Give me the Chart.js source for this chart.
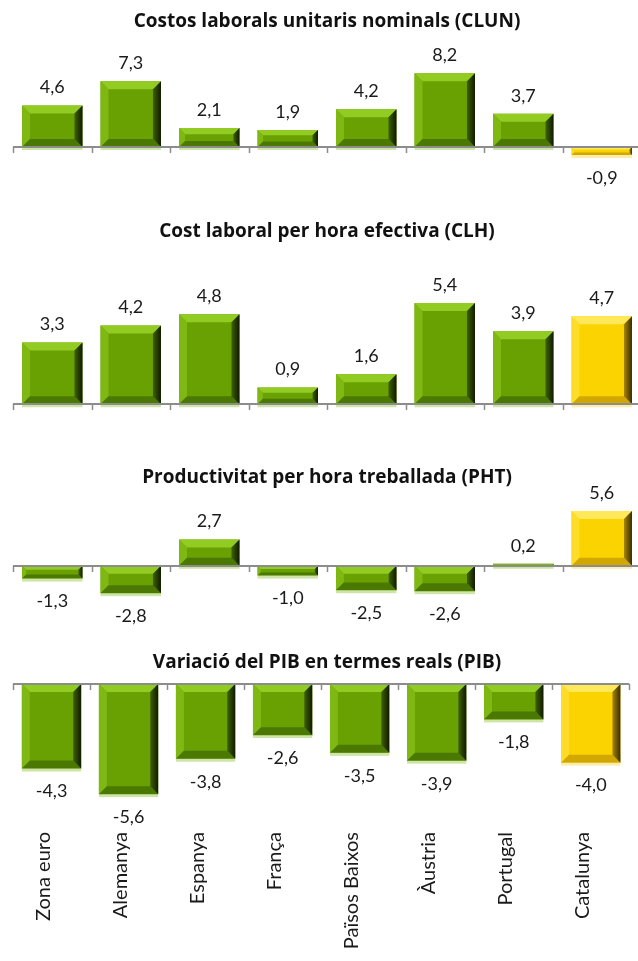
<!DOCTYPE html>
<html>
<head>
<meta charset="utf-8">
<script src="https://cdn.jsdelivr.net/npm/chart.js@4.4.1/dist/chart.umd.min.js"></script>
<style>
  html, body { margin: 0; padding: 0; background: #fff; overflow: hidden; }
  #wrap { position: relative; width: 638px; height: 961px; overflow: hidden; }
  .panel { position: absolute; left: 0; width: 645px; }
</style>
</head>
<body>
<div id="wrap">
  <div class="panel" style="top:0;height:205px"><canvas id="c1"></canvas></div>
  <div class="panel" style="top:205px;height:245px"><canvas id="c2"></canvas></div>
  <div class="panel" style="top:450px;height:190px"><canvas id="c3"></canvas></div>
  <div class="panel" style="top:640px;height:321px"><canvas id="c4"></canvas></div>
</div>
<script>
// ---- data ----
const countries = ['Zona euro', 'Alemanya', 'Espanya', 'França', 'Països Baixos', 'Àustria', 'Portugal', 'Catalunya'];
const clun = [4.6, 7.3, 2.1, 1.9, 4.2, 8.2, 3.7, -0.9];
const clh  = [3.3, 4.2, 4.8, 0.9, 1.6, 5.4, 3.9, 4.7];
const pht  = [-1.3, -2.8, 2.7, -1.0, -2.5, -2.6, 0.2, 5.6];
const pib  = [-4.3, -5.6, -3.8, -2.6, -3.5, -3.9, -1.8, -4.0];
const highlight = 'Catalunya';

// ---- palettes for the bevelled bars ----
const GREEN = { face: '#69a002', top: '#92cc22', left: '#7fb812', right1: '#3d6200', right2: '#101a00', bottom: '#4a7800', glow: 'rgba(165,208,95,0.55)' };
const GOLD  = { face: '#fbd300', top: '#ffe85a', left: '#ffdc28', right1: '#a88600', right2: '#3a2c00', bottom: '#d2a800', glow: 'rgba(250,225,120,0.6)' };
const palFor = (i) => countries[i] === highlight ? GOLD : GREEN;

const fmt = (v) => v.toFixed(1).replace('.', ',');

// draws the bevel on top of each bar element the library laid out
const bevelBars = {
  id: 'bevelBars',
  afterDatasetsDraw(chart) {
    const ctx = chart.ctx;
    chart.getDatasetMeta(0).data.forEach((el, i) => {
      const pal = palFor(i);
      const x0 = el.x - el.width / 2, x1 = el.x + el.width / 2;
      const y0 = Math.min(el.y, el.base), y1 = Math.max(el.y, el.base);
      const w = x1 - x0, h = y1 - y0;
      if (h < 1) return;
      const b = Math.min(8, h * 0.32, w * 0.2);
      const poly = (pts, c) => {
        ctx.beginPath();
        ctx.moveTo(pts[0][0], pts[0][1]);
        pts.slice(1).forEach(p => ctx.lineTo(p[0], p[1]));
        ctx.closePath();
        ctx.fillStyle = c;
        ctx.fill();
      };
      ctx.save();
      poly([[x0, y0], [x1, y0], [x1 - b, y0 + b], [x0 + b, y0 + b]], pal.top);
      poly([[x0, y0], [x0 + b, y0 + b], [x0 + b, y1 - b], [x0, y1]], pal.left);
      poly([[x0, y1], [x0 + b, y1 - b], [x1 - b, y1 - b], [x1, y1]], pal.bottom);
      const g = ctx.createLinearGradient(x1 - b, 0, x1, 0);
      g.addColorStop(0, pal.right1);
      g.addColorStop(1, pal.right2);
      poly([[x1, y0], [x1, y1], [x1 - b, y1 - b], [x1 - b, y0 + b]], g);
      ctx.fillStyle = pal.glow;
      ctx.fillRect(x0, y1, w, 3);
      ctx.restore();
    });
  }
};

// horizontal axis at zero with small tick marks between categories
const zeroAxis = {
  id: 'zeroAxis',
  afterDatasetsDraw(chart) {
    const { ctx, chartArea, scales: { x, y } } = chart;
    const y0 = Math.round(y.getPixelForValue(0));
    const step = x.getPixelForValue(1) - x.getPixelForValue(0);
    ctx.save();
    ctx.strokeStyle = '#8c8c8c';
    ctx.lineWidth = 2;
    ctx.beginPath();
    ctx.moveTo(chartArea.left, y0);
    ctx.lineTo(chartArea.right, y0);
    ctx.stroke();
    ctx.lineWidth = 1.5;
    for (let i = 0; i <= countries.length; i++) {
      const px = Math.round(x.getPixelForValue(i) - step / 2) + 0.5;
      ctx.beginPath();
      ctx.moveTo(px, y0);
      ctx.lineTo(px, y0 + 6);
      ctx.stroke();
    }
    ctx.restore();
  }
};

// value labels outside the bar ends
const valueLabels = {
  id: 'valueLabels',
  afterDatasetsDraw(chart) {
    const ctx = chart.ctx;
    const vals = chart.data.datasets[0].data;
    ctx.save();
    ctx.font = "18px Lato";
    ctx.fillStyle = '#1a1a1a';
    ctx.textAlign = 'center';
    ctx.textBaseline = 'middle';
    chart.getDatasetMeta(0).data.forEach((el, i) => {
      const v = vals[i];
      const ty = v >= 0 ? Math.min(el.y, el.base) - 18 : Math.max(el.y, el.base) + 23;
      ctx.fillText(fmt(v), el.x, ty);
    });
    ctx.restore();
  }
};

function makePanel(canvasId, { title, values, min, max, titlePad, bottomPad, showLabels }) {
  const ctx = document.getElementById(canvasId).getContext('2d');
  return new Chart(ctx, {
    type: 'bar',
    data: {
      labels: countries,
      datasets: [{
        data: values,
        backgroundColor: values.map((_, i) => palFor(i).face),
        borderWidth: 0,
        barPercentage: 0.77,
        categoryPercentage: 1,
      }],
    },
    options: {
      responsive: true,
      maintainAspectRatio: false,
      animation: false,
      layout: { padding: { left: 13, right: 4, top: 0, bottom: bottomPad } },
      scales: {
        x: showLabels ? {
          grid: { display: false, drawTicks: false },
          border: { display: false },
          ticks: {
            maxRotation: 90,
            minRotation: 90,
            padding: 30,
            labelOffset: -8,
            color: '#1a1a1a',
            font: { family: 'Lato', size: 20 },
          },
          afterFit: (scale) => { scale.height = 159; },
        } : { display: false },
        y: { display: false, min, max },
      },
      plugins: {
        legend: { display: false },
        tooltip: { enabled: false },
        title: {
          display: true,
          text: title,
          color: '#111',
          font: { family: "'Open Sans'", size: 19, weight: 'bold', lineHeight: 1.2 },
          padding: titlePad,
        },
      },
    },
    plugins: [bevelBars, zeroAxis, valueLabels],
  });
}

makePanel('c1', { title: 'Costos laborals unitaris nominals (CLUN)', values: clun, min: -2, max: 9,
  titlePad: { top: 10.6, bottom: 32.6 }, bottomPad: 40 });
makePanel('c2', { title: 'Cost laboral per hora efectiva (CLH)', values: clh, min: -1, max: 6,
  titlePad: { top: 15.6, bottom: 48.4 }, bottomPad: 27 });
makePanel('c3', { title: 'Productivitat per hora treballada (PHT)', values: pht, min: -3.5, max: 6,
  titlePad: { top: 16.6, bottom: 17.8 }, bottomPad: 40 });
makePanel('c4', { title: 'Variació del PIB en termes reals (PIB)', values: pib, min: -6, max: 0,
  titlePad: { top: 11.6, bottom: 9.6 }, bottomPad: 0, showLabels: true });
</script>
</body>
</html>
